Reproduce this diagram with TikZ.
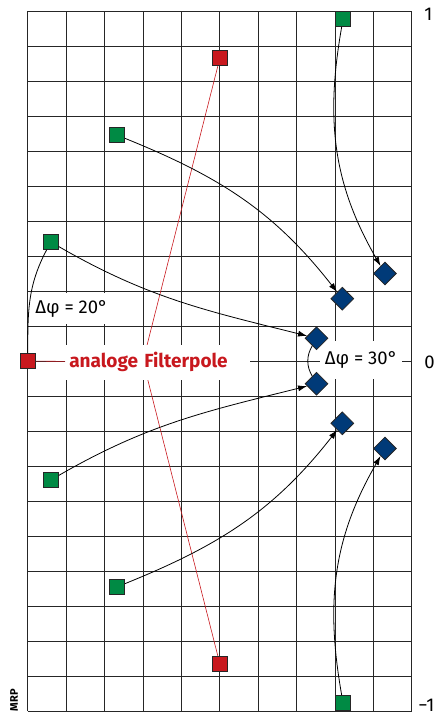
\documentclass[tikz,border=0pt]{standalone}
\usepackage{fontspec}
\setmainfont{Fira Sans}
\usetikzlibrary{shapes.geometric,arrows.meta}
\definecolor{polrojo}{RGB}{200,24,30}
\definecolor{polverde}{RGB}{0,138,68}
\definecolor{polazul}{RGB}{0,58,120}

\begin{document}
\begin{tikzpicture}[x=38.4pt, y=35pt, font=\fontsize{18.5}{21}\selectfont,
  cuadro/.style={draw=black!85, line width=0.8pt, minimum size=15pt, inner sep=0pt},
  analog/.style={cuadro, fill=polrojo},
  digital/.style={cuadro, fill=polverde},
  rombo/.style={diamond, draw=black!85, line width=0.8pt, fill=polazul, minimum width=23pt, minimum height=23pt, inner sep=0pt},
  flecha/.style={line width=0.8pt, -{Latex[length=9pt, width=6pt]}},
  etiqueta/.style={fill=white, inner sep=0pt}]
  \useasboundingbox (-3.724,-10.114) rectangle (7.656,10.314);
  % rejilla
  \draw[line width=0.8pt, black!85, step=1] (-3,-10) grid (7,10);
  % polos analogicos
  \node[analog] (P0) at (-3,0) {};
  \node[analog] (P1) at (2,8.65) {};
  \node[analog] (P2) at (2,-8.65) {};
  \coordinate (O) at (0,0);
  \draw[polrojo, line width=0.6pt] (O) -- (P1) (O) -- (P2);
  % etiquetas
  \node[etiqueta, anchor=west, text=polrojo, font=\fontsize{19}{21}\selectfont\bfseries,
    inner xsep=4pt, text width=177pt, minimum height=35pt] (filtro) at (-2.03,-0.04) {analoge Filterpole};
  \draw[polrojo, line width=0.6pt] (P0) -- (filtro);
  \node[etiqueta, minimum width=82pt, minimum height=38pt] (dphi30) at (5.68,0.04) {Δφ = 30°};
  \node[etiqueta, minimum width=81pt, minimum height=31pt] (dphi20) at (-1.86,1.5) {Δφ = 20°};
  \node[anchor=west, inner sep=0pt] (im1) at (7.32,9.91) {1};
  \node[anchor=west, inner sep=0pt] (im0) at (7.32,-0.03) {0};
  \node[anchor=east, inner sep=0pt] (imm1) at (7.59,-9.84) {−1};
  \node[rotate=90, font=\fontsize{11}{13}\selectfont\bfseries] (mrp) at (-3.36,-9.69) {MRP};
  % polos digitales
  \node[digital] (G1) at (5.21,9.77) {};
  \node[digital] (G2) at (-0.67,6.45) {};
  \node[digital] (G3) at (-2.4,3.4) {};
  \node[digital] (G4) at (-2.4,-3.4) {};
  \node[digital] (G5) at (-0.67,-6.45) {};
  \node[digital] (G6) at (5.21,-9.77) {};
  \node[rombo] (D1) at (6.3,2.5) {};
  \node[rombo] (D2) at (5.19,1.78) {};
  \node[rombo] (D3) at (4.52,0.65) {};
  \node[rombo] (D4) at (4.52,-0.65) {};
  \node[rombo] (D5) at (5.19,-1.78) {};
  \node[rombo] (D6) at (6.3,-2.5) {};
  % transformacion
  \draw[flecha] (G1) to[out=-100, in=120] (D1);
  \draw[flecha] (G2) to[out=-22, in=128] (D2);
  \draw[flecha] (G3) to[out=-30, in=166] (D3);
  \draw[flecha] (G4) to[out=30, in=194] (D4);
  \draw[flecha] (G5) to[out=22, in=232] (D5);
  \draw[flecha] (G6) to[out=100, in=240] (D6);
  % angulos
  \draw[line width=0.8pt] (P0) to[out=90, in=242] (G3);
  \draw[line width=0.8pt] (D3) to[bend right=30] (D4);
\end{tikzpicture}
\end{document}
